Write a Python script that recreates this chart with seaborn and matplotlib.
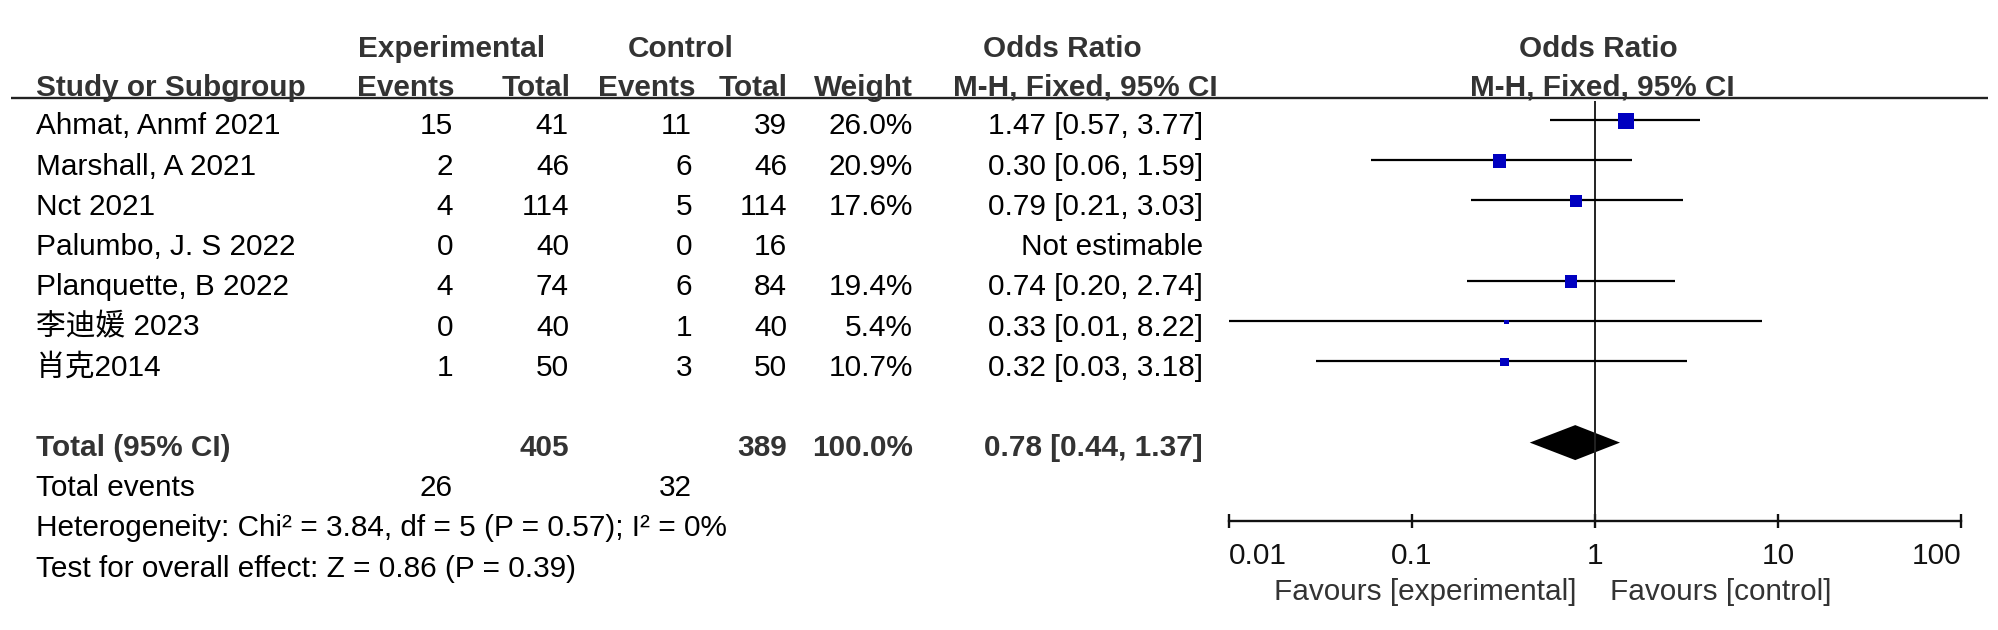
import numpy as np
import pandas as pd
import seaborn as sns
import matplotlib.pyplot as plt

# study data
studies = ['Ahmat, Anmf 2021', 'Marshall, A 2021', 'Nct 2021', 'Palumbo, J. S 2022',
           'Planquette, B 2022', '李迪媛 2023', '肖克2014']
exp_events = [15, 2, 4, 0, 4, 0, 1]
exp_total = [41, 46, 114, 40, 74, 40, 50]
ctl_events = [11, 6, 5, 0, 6, 1, 3]
ctl_total = [39, 46, 114, 16, 84, 40, 50]
weight = [26.0, 20.9, 17.6, np.nan, 19.4, 5.4, 10.7]
odds = [1.47, 0.30, 0.79, np.nan, 0.74, 0.33, 0.32]
ci_low = [0.57, 0.06, 0.21, np.nan, 0.20, 0.01, 0.03]
ci_high = [3.77, 1.59, 3.03, np.nan, 2.74, 8.22, 3.18]

total_exp, total_ctl, total_weight = 405, 389, 100.0
total_or, total_low, total_high = 0.78, 0.44, 1.37
events_exp, events_ctl = 26, 32
het_text = 'Heterogeneity: Chi² = 3.84, df = 5 (P = 0.57); I² = 0%'
effect_text = 'Test for overall effect: Z = 0.86 (P = 0.39)'
ticks = [0.01, 0.1, 1, 10, 100]
tick_labels = ['0.01', '0.1', '1', '10', '100']

sns.set_style('white')
plt.rcParams['font.family'] = ['Liberation Sans', 'Noto Sans CJK SC', 'DejaVu Sans']

W, H = 1999, 630
FS = 21.4
HEAD = '#333333'

# pixel layout: row line position (forest) and text baseline
def line_y(k):
    return 120 + 40.2 * k

def base(k):
    return line_y(k) + 14.5

col_right = {'ee': 453, 'et': 569, 'ce': 692, 'ct': 787, 'w': 913, 'or': 1203}
x_left = 36
axis_y, top_y = 521, 98
fx0, fx1 = 1229, 1961

fig = plt.figure(figsize=(W / 100, H / 100), dpi=100)
tab = fig.add_axes([0, 0, 1, 1])
tab.set_xlim(0, W)
tab.set_ylim(H, 0)
tab.axis('off')

def txt(x, y, s, ha='left', bold=False, color='black'):
    tab.text(x, y, s, ha=ha, va='baseline', fontsize=FS,
             fontweight='bold' if bold else 'normal', color=color)

# headers
txt(452, 57, 'Experimental', 'center', True, HEAD)
txt(681, 57, 'Control', 'center', True, HEAD)
txt(1062, 57, 'Odds Ratio', 'center', True, HEAD)
txt(1598, 57, 'Odds Ratio', 'center', True, HEAD)
hy = 96
txt(x_left, hy, 'Study or Subgroup', 'left', True, HEAD)
txt(455, hy, 'Events', 'right', True, HEAD)
txt(571, hy, 'Total', 'right', True, HEAD)
txt(696, hy, 'Events', 'right', True, HEAD)
txt(788, hy, 'Total', 'right', True, HEAD)
txt(913, hy, 'Weight', 'right', True, HEAD)
txt(1085, hy, 'M-H, Fixed, 95% CI', 'center', True, HEAD)
txt(1602, hy, 'M-H, Fixed, 95% CI', 'center', True, HEAD)
tab.plot([11, 1988], [top_y, top_y], color='#222222', lw=1.7, solid_capstyle='butt')

# study rows
for k, name in enumerate(studies):
    y = base(k)
    txt(x_left, y, name)
    txt(col_right['ee'], y, str(exp_events[k]), 'right')
    txt(col_right['et'], y, str(exp_total[k]), 'right')
    txt(col_right['ce'], y, str(ctl_events[k]), 'right')
    txt(col_right['ct'], y, str(ctl_total[k]), 'right')
    if np.isnan(odds[k]):
        txt(col_right['or'], y, 'Not estimable', 'right')
    else:
        txt(col_right['w'], y, f'{weight[k]:.1f}%', 'right')
        txt(col_right['or'], y, f'{odds[k]:.2f} [{ci_low[k]:.2f}, {ci_high[k]:.2f}]', 'right')

# totals
y = base(8)
txt(x_left, y, 'Total (95% CI)', 'left', True, HEAD)
txt(col_right['et'], y, str(total_exp), 'right', True, HEAD)
txt(col_right['ct'], y, str(total_ctl), 'right', True, HEAD)
txt(col_right['w'], y, f'{total_weight:.1f}%', 'right', True, HEAD)
txt(col_right['or'], y, f'{total_or:.2f} [{total_low:.2f}, {total_high:.2f}]', 'right', True, HEAD)
y = base(9)
txt(x_left, y, 'Total events')
txt(col_right['ee'], y, str(events_exp), 'right')
txt(col_right['ce'], y, str(events_ctl), 'right')
txt(x_left, base(10), het_text)
txt(x_left, base(11), effect_text)

txt(1577, 600, 'Favours [experimental]', 'right', False, HEAD)
txt(1610, 600, 'Favours [control]', 'left', False, HEAD)

# forest panel
ax = fig.add_axes([fx0 / W, (H - axis_y) / H, (fx1 - fx0) / W, (axis_y - top_y) / H])
ax.patch.set_alpha(0)

df = pd.DataFrame({'odds': odds, 'low': ci_low, 'high': ci_high, 'weight': weight,
                   'ypos': [line_y(k) for k in range(len(studies))]}).dropna()
df['area'] = (16 * (df['weight'] / 26.0) ** 0.75 * 0.72) ** 2

ax.vlines(1, top_y + 3, axis_y, color='#222222', lw=1.4)
ax.hlines(df['ypos'], df['low'], df['high'], color='black', lw=1.6)
sns.scatterplot(data=df, x='odds', y=df['ypos'] + 1, size='area',
                sizes=(df['area'].min(), df['area'].max()), marker='s',
                color='#0000c0', linewidth=0, legend=False, ax=ax, zorder=3)
yc = line_y(8) + 1
ax.fill([total_low, total_or, total_high, total_or], [yc, yc - 17.5, yc, yc + 17.5],
        color='black', lw=0)

ax.set_xscale('log')
ax.set_xlim(ticks[0], ticks[-1])
ax.set_ylim(axis_y, top_y)
for s in ['top', 'left', 'right']:
    ax.spines[s].set_visible(False)
ax.spines['bottom'].set_linewidth(1.7)
ax.spines['bottom'].set_color('#111111')
ax.set_xticks(ticks)
ax.set_xticklabels(tick_labels)
ax.minorticks_off()
ax.set_yticks([])
ax.set_xlabel('')
ax.set_ylabel('')
ax.tick_params(axis='x', direction='inout', length=10, width=1.7, pad=10,
               labelsize=FS, colors='#111111', bottom=True)
lbls = ax.get_xticklabels()
lbls[0].set_horizontalalignment('left')
lbls[-1].set_horizontalalignment('right')

fig.savefig('out.png', dpi=100)
